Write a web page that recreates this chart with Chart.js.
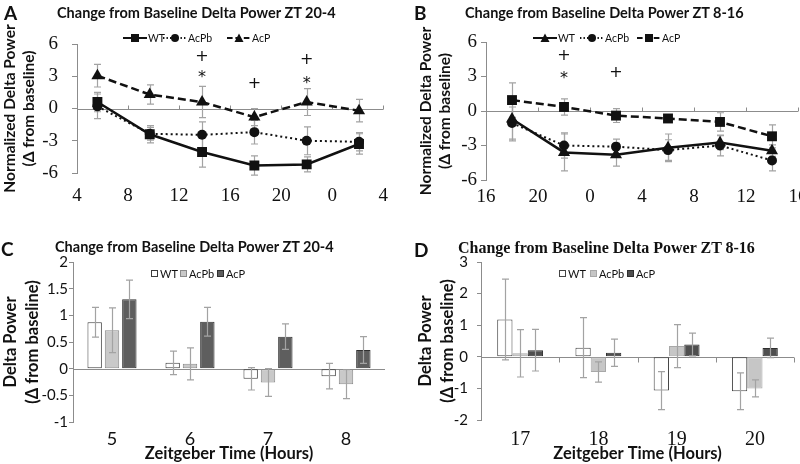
<!DOCTYPE html>
<html>
<head>
<meta charset="utf-8">
<title>Change from Baseline Delta Power</title>
<script src="https://cdn.jsdelivr.net/npm/chart.js@4.4.1/dist/chart.umd.min.js"></script>
<style>
  body { margin: 0; background: #fff; }
  #wrap { position: relative; width: 800px; height: 464px; overflow: hidden; }
  canvas { position: absolute; }
  .letter { position: absolute; font: bold 19px Lato, sans-serif; color: #111; }
  .title { position: absolute; font: bold 14.5px Lato, sans-serif; white-space: nowrap; color: #111; }
  .title.serif { font: bold 16px "Liberation Serif", serif; }
  .key { position: absolute; display: flex; align-items: center; font: 10.5px Lato, sans-serif; color: #111; white-space: nowrap; }
  .key.bar { font-size: 11px; }
  .box { display: inline-block; width: 5px; height: 5px; margin-right: 2px; }
</style>
</head>
<body>
<div id="wrap">
  <canvas id="chartA" width="400" height="232" style="left:0;top:0"></canvas>
  <canvas id="chartB" width="420" height="232" style="left:400px;top:0"></canvas>
  <canvas id="chartC" width="400" height="224" style="left:0;top:240px"></canvas>
  <canvas id="chartD" width="400" height="224" style="left:400px;top:240px"></canvas>

  <div class="letter" style="left:4px;top:1px">A</div>
  <div class="letter" style="left:414px;top:1px">B</div>
  <div class="letter" style="left:1px;top:237px">C</div>
  <div class="letter" style="left:414px;top:238px">D</div>

  <div class="title" style="left:57px;top:4px">Change from Baseline Delta Power ZT 20-4</div>
  <div class="title" style="left:465px;top:4px">Change from Baseline Delta Power ZT 8-16</div>
  <div class="title" style="left:55px;top:238px">Change from Baseline Delta Power ZT 20-4</div>
  <div class="title serif" style="left:458px;top:239px">Change from Baseline Delta Power ZT 8-16</div>
</div>

<script>
// ---- panel A : ZT 20-4, line chart ----
const seriesNames = ['WT', 'AcPb', 'AcP'];
const hoursA = [5.6, 9.7, 13.8, 17.9, 22, 26.1];
const wtA = [0.6, -2.4, -4.05, -5.3, -5.2, -3.3];
const wtErrA = [0.9, 0.8, 1.4, 0.9, 0.7, 0.95];
const acpbA = [0.2, -2.35, -2.45, -2.2, -3.0, -3.1];
const acpbErrA = [1.15, 0.6, 1.2, 1.1, 1.3, 0.85];
const acpA = [3.05, 1.3, 0.6, -0.8, 0.6, -0.2];
const acpErrA = [1.05, 0.9, 1.45, 0.8, 1.25, 1.05];
const plusA = [[13.8, 4.8], [17.9, 2.3], [22, 4.5]];
const starA = [[13.8, 3.1], [22, 2.6]];

// ---- panel B : ZT 8-16, line chart ----
const hoursB = [18, 22, 26, 30, 34, 38];
const wtB = [-0.7, -3.6, -3.8, -3.2, -2.75, -3.45];
const wtErrB = [1.9, 1.6, 1.0, 1.2, 0.6, 0.5];
const acpbB = [-1.05, -3.0, -3.1, -3.4, -3.0, -4.3];
const acpbErrB = [1.4, 1.1, 0.65, 0.9, 0.9, 0.9];
const acpB = [0.95, 0.35, -0.4, -0.65, -0.95, -2.2];
const acpErrB = [1.5, 0.7, 0.6, 0.3, 0.8, 1.0];
const plusB = [[22, 4.8], [26, 3.3]];
const starB = [[22, 3.1]];

// ---- panel C : ZT 20-4, bars ----
const ztC = ['5', '6', '7', '8'];
const wtC = [0.87, 0.11, -0.19, -0.14];
const wtErrC = [0.28, 0.22, 0.21, 0.24];
const acpbC = [0.72, 0.09, -0.26, -0.29];
const acpbErrC = [0.42, 0.3, 0.26, 0.27];
const acpC = [1.3, 0.88, 0.6, 0.35];
const acpErrC = [0.36, 0.27, 0.24, 0.25];

// ---- panel D : ZT 8-16, bars ----
const ztD = ['17', '18', '19', '20'];
const wtD = [1.18, 0.29, -1.07, -1.09];
const wtErrD = [1.28, 0.95, 0.6, 0.58];
const acpbD = [0.11, -0.48, 0.34, -1.0];
const acpbErrD = [0.75, 0.32, 0.68, 0.27];
const acpD = [0.21, 0.13, 0.39, 0.28];
const acpErrD = [0.66, 0.43, 0.36, 0.31];

const yTitleLine = ['Normalized Delta Power', '(\u0394 from baseline)'];
const yTitleBar = ['Delta Power', '(\u0394 from baseline)'];
const xTitleBar = 'Zeitgeber Time (Hours)';

const INK = '#111';
const AXIS = '#8c8c8c';
const ERR = '#a3a3a3';
const SERIF = '"Liberation Serif", "Times New Roman", serif';
const SANS = 'Lato, sans-serif';

// error bars, drawn from each dataset's "errors" array
const errorBars = {
  id: 'errorBars',
  draw(chart, opts) {
    const { ctx, scales: { y } } = chart;
    ctx.save();
    ctx.strokeStyle = ERR;
    ctx.lineWidth = 1.2;
    chart.data.datasets.forEach((ds, i) => {
      const meta = chart.getDatasetMeta(i);
      meta.data.forEach((el, j) => {
        const raw = ds.data[j];
        const v = typeof raw === 'object' ? raw.y : raw;
        const e = ds.errors[j];
        const top = y.getPixelForValue(v + e);
        const bot = y.getPixelForValue(v - e);
        const x = Math.round(el.x) + 0.5;
        ctx.beginPath();
        ctx.moveTo(x, top); ctx.lineTo(x, bot);
        ctx.moveTo(x - opts.cap, top); ctx.lineTo(x + opts.cap, top);
        ctx.moveTo(x - opts.cap, bot); ctx.lineTo(x + opts.cap, bot);
        ctx.stroke();
      });
    });
    ctx.restore();
  },
  beforeDatasetsDraw(chart, args, opts) { if (opts.behind) this.draw(chart, opts); },
  afterDatasetsDraw(chart, args, opts) { if (!opts.behind) this.draw(chart, opts); }
};

// horizontal line at y = 0 with small tick marks
const zeroLine = {
  id: 'zeroLine',
  beforeDatasetsDraw(chart, args, opts) {
    const { ctx, chartArea: area, scales: { x, y } } = chart;
    const y0 = Math.round(y.getPixelForValue(0)) + 0.5;
    ctx.save();
    ctx.strokeStyle = AXIS;
    ctx.lineWidth = 1;
    ctx.beginPath();
    ctx.moveTo(area.left, y0);
    ctx.lineTo(area.right, y0);
    let marks = [];
    if (opts.ticks === 'values') marks = x.ticks.map(t => x.getPixelForValue(t.value));
    if (opts.ticks === 'between') marks = x.ticks.map((t, i) => x.getPixelForValue(i + 0.5));
    marks.forEach(px => {
      const p = Math.round(px) + 0.5;
      ctx.moveTo(p, y0);
      ctx.lineTo(p, y0 + opts.tick);
    });
    ctx.stroke();
    ctx.restore();
  }
};

// significance marks (+ and *)
const sigMarks = {
  id: 'sigMarks',
  afterDatasetsDraw(chart, args, opts) {
    if (!opts.plus) return;
    const { ctx, scales: { x, y } } = chart;
    ctx.save();
    ctx.fillStyle = INK;
    ctx.textAlign = 'center';
    ctx.textBaseline = 'middle';
    ctx.font = '16px "DejaVu Sans", sans-serif';
    opts.plus.forEach(p => ctx.fillText('+', x.getPixelForValue(p[0]), y.getPixelForValue(p[1])));
    opts.star.forEach(p => ctx.fillText('*', x.getPixelForValue(p[0]), y.getPixelForValue(p[1]) + 3));
    ctx.restore();
  }
};

const toPts = (xs, ys) => xs.map((x, i) => ({ x: x, y: ys[i] }));

function lineSet(label, xs, ys, errs, style) {
  return {
    label: label,
    data: toPts(xs, ys),
    errors: errs,
    borderColor: INK,
    backgroundColor: INK,
    borderWidth: style.width,
    borderDash: style.dash,
    pointStyle: style.marker,
    pointRadius: style.marker === 'circle' ? 5 : 7,
    pointBorderWidth: 0,
    tension: 0
  };
}

function barSet(label, ys, errs, fill, edge) {
  return {
    label: label,
    data: ys,
    errors: errs,
    backgroundColor: fill,
    borderColor: edge,
    borderWidth: 1,
    borderSkipped: false
  };
}

const solid = { width: 2.5, dash: [] };
const dotted = { width: 2, dash: [2, 3] };
const dashed = { width: 2.5, dash: [8, 4] };

function lineChart(id, sets, range, geo, sig) {
  return new Chart(document.getElementById(id), {
    type: 'line',
    data: { datasets: sets },
    plugins: [zeroLine, errorBars, sigMarks],
    options: {
      responsive: false,
      animation: false,
      layout: { padding: geo.pad },
      plugins: {
        legend: { display: false },
        tooltip: { enabled: false },
        zeroLine: { ticks: 'values', tick: -4 },
        errorBars: { behind: true, cap: 3.5 },
        sigMarks: sig
      },
      scales: {
        x: {
          type: 'linear',
          min: range[0],
          max: range[1],
          afterFit: s => { s.height = geo.xh; },
          grid: { display: false, drawTicks: false },
          border: { display: false },
          ticks: {
            stepSize: 4,
            padding: geo.xpad,
            color: INK,
            font: { family: SERIF, size: 19 },
            callback: v => v % 24
          }
        },
        y: {
          min: -6,
          max: 6,
          afterFit: s => { s.width = geo.yw; },
          grid: { drawOnChartArea: false, tickLength: 5, color: AXIS },
          border: { color: AXIS },
          ticks: {
            stepSize: 3,
            padding: geo.ypad,
            color: INK,
            font: { family: SERIF, size: 19 }
          },
          title: {
            display: true,
            text: yTitleLine,
            padding: 0,
            color: INK,
            font: { family: SANS, size: 15.5, weight: 'bold', lineHeight: 1.25 }
          }
        }
      }
    }
  });
}

function barChart(id, cats, sets, range, step, geo, tickFont) {
  return new Chart(document.getElementById(id), {
    type: 'bar',
    data: { labels: cats, datasets: sets },
    plugins: [zeroLine, errorBars],
    options: {
      responsive: false,
      animation: false,
      layout: { padding: geo.pad },
      datasets: { bar: { categoryPercentage: geo.cat, barPercentage: geo.bar } },
      plugins: {
        legend: { display: false },
        tooltip: { enabled: false },
        zeroLine: { ticks: geo.zeroTicks, tick: 5 },
        errorBars: { behind: false, cap: 3.5 }
      },
      scales: {
        x: {
          afterFit: s => { s.height = geo.xh; },
          grid: { display: false, drawTicks: false },
          border: { display: false },
          ticks: { padding: geo.xpad, color: INK, font: tickFont },
          title: {
            display: true,
            text: xTitleBar,
            padding: 0,
            color: INK,
            font: { family: SANS, size: 16.5, weight: 'bold' }
          }
        },
        y: {
          min: range[0],
          max: range[1],
          afterFit: s => { s.width = geo.yw; },
          grid: { drawOnChartArea: false, tickLength: 4, color: AXIS },
          border: { color: AXIS },
          ticks: {
            stepSize: step,
            padding: geo.ypad,
            color: INK,
            font: { family: SANS, size: 15 },
            callback: v => String(v)
          },
          title: {
            display: true,
            text: yTitleBar,
            padding: 0,
            color: INK,
            font: { family: SANS, size: 16.5, weight: 'bold', lineHeight: 1.3 }
          }
        }
      }
    }
  });
}

// ---- legends (HTML, built from the datasets) ----
const wrap = document.getElementById('wrap');

function lineKey(ds) {
  const dash = ds.borderDash.length ? ds.borderDash.map(d => d * 0.7).join(',') : '';
  let m = '';
  if (ds.pointStyle === 'rect') m = '<rect x="8" y="1" width="8" height="8" fill="#111"/>';
  if (ds.pointStyle === 'circle') m = '<circle cx="12" cy="5" r="4" fill="#111"/>';
  if (ds.pointStyle === 'triangle') m = '<polygon points="12,0.5 16.5,9 7.5,9" fill="#111"/>';
  return '<svg width="24" height="10" style="margin-right:1px"><line x1="0" y1="5" x2="24" y2="5" stroke="#111" stroke-width="2"' +
    (dash ? ' stroke-dasharray="' + dash + '"' : '') + '/>' + m + '</svg>';
}

function barKey(ds) {
  return '<span class="box" style="background:' + ds.backgroundColor + ';border:1px solid ' + ds.borderColor + '"></span>';
}

function addLegend(chart, xs, top, kind) {
  chart.data.datasets.forEach((ds, i) => {
    const el = document.createElement('div');
    el.className = 'key' + (kind === 'bar' ? ' bar' : '');
    el.style.left = xs[i] + 'px';
    el.style.top = top + 'px';
    el.innerHTML = (kind === 'bar' ? barKey(ds) : lineKey(ds)) + '<span>' + ds.label + '</span>';
    wrap.appendChild(el);
  });
}

function build() {
  const chartA = lineChart('chartA', [
    lineSet(seriesNames[0], hoursA, wtA, wtErrA, Object.assign({ marker: 'rect' }, solid)),
    lineSet(seriesNames[1], hoursA, acpbA, acpbErrA, Object.assign({ marker: 'circle' }, dotted)),
    lineSet(seriesNames[2], hoursA, acpA, acpErrA, Object.assign({ marker: 'triangle' }, dashed))
  ], [4, 28], { pad: { left: 0, top: 44, right: 12, bottom: 0 }, yw: 77, xh: 59, xpad: 12, ypad: 14 },
    { plus: plusA, star: starA });

  const chartB = lineChart('chartB', [
    lineSet(seriesNames[0], hoursB, wtB, wtErrB, Object.assign({ marker: 'triangle' }, solid)),
    lineSet(seriesNames[1], hoursB, acpbB, acpbErrB, Object.assign({ marker: 'circle' }, dotted)),
    lineSet(seriesNames[2], hoursB, acpB, acpErrB, Object.assign({ marker: 'rect' }, dashed))
  ], [16, 40], { pad: { left: 16, top: 42, right: 22, bottom: 0 }, yw: 70, xh: 52, xpad: 6, ypad: 4 },
    { plus: plusB, star: starB });

  const chartC = barChart('chartC', ztC, [
    barSet(seriesNames[0], wtC, wtErrC, '#ffffff', '#3c3c3c'),
    barSet(seriesNames[1], acpbC, acpbErrC, '#c9c9c9', '#8a8a8a'),
    barSet(seriesNames[2], acpC, acpErrC, '#5e5e5e', '#303030')
  ], [-1, 2], 0.5,
    { pad: { left: 0, top: 22, right: 15, bottom: 0 }, yw: 73, xh: 42, xpad: 6, ypad: 1, cat: 0.667, bar: 0.83, zeroTicks: 'none' },
    { family: SANS, size: 18 });

  const chartD = barChart('chartD', ztD, [
    barSet(seriesNames[0], wtD, wtErrD, '#ffffff', '#444444'),
    barSet(seriesNames[1], acpbD, acpbErrD, '#c6c6c6', '#a8a8a8'),
    barSet(seriesNames[2], acpD, acpErrD, '#4f4f4f', '#2e2e2e')
  ], [-2, 3], 1,
    { pad: { left: 15, top: 22, right: 6, bottom: 0 }, yw: 66, xh: 44, xpad: 8, ypad: 9, cat: 0.586, bar: 1.0, zeroTicks: 'between' },
    { family: SERIF, size: 20 });

  addLegend(chartA, [123, 163, 227], 32, 'line');
  addLegend(chartB, [533, 580, 637], 32, 'line');
  addLegend(chartC, [151, 180, 217], 267, 'bar');
  addLegend(chartD, [559, 590, 627], 267, 'bar');
}

// make sure the local fonts are ready before the canvases are painted
Promise.all([
  document.fonts.load('19px "Liberation Serif"'),
  document.fonts.load('bold 16px "Liberation Serif"'),
  document.fonts.load('15px Lato'),
  document.fonts.load('bold 16px Lato'),
  document.fonts.load('16px "DejaVu Sans"')
]).then(build, build);
</script>
</body>
</html>
